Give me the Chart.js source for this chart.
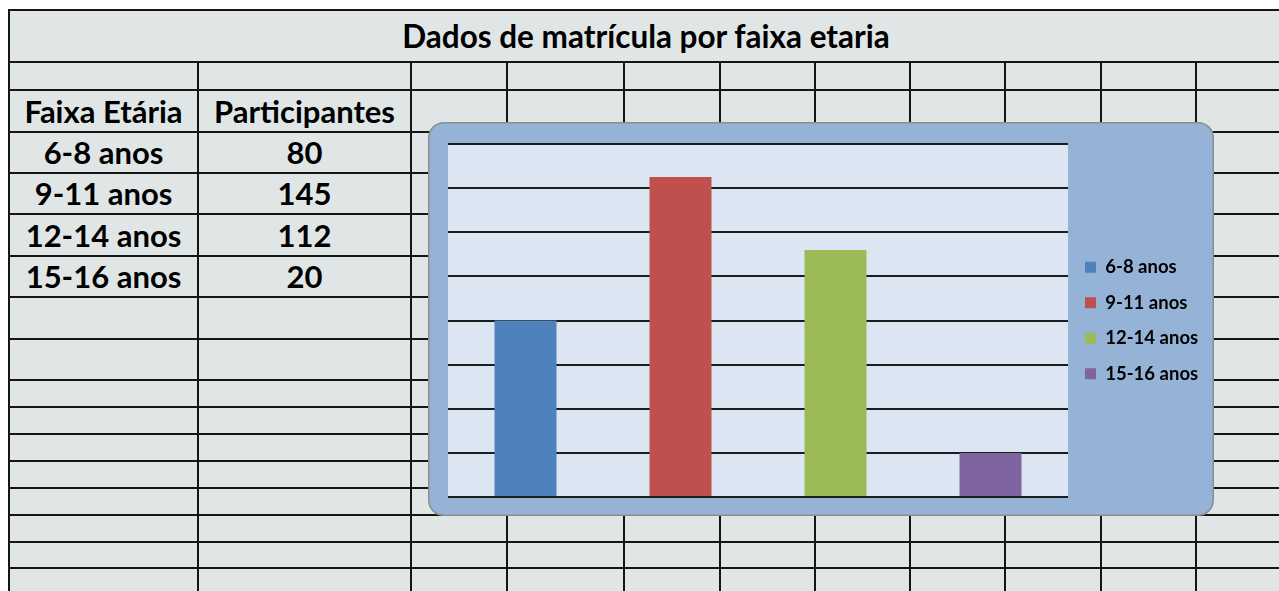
<!DOCTYPE html>
<html>
<head>
<meta charset="utf-8">
<script src="https://cdn.jsdelivr.net/npm/chart.js@4/dist/chart.umd.min.js"></script>
<style>
  html, body { margin: 0; padding: 0; background: #ffffff; }
  body { width: 1279px; height: 591px; overflow: hidden; position: relative; font-family: Lato, "Open Sans", sans-serif; }
  #sheet { position: absolute; left: 9px; top: 10px; width: 1280px; height: 600px; background: #e0e6e6; }
  .hl, .vl { position: absolute; background: #151515; z-index: 1; }
  .cell { position: absolute; display: flex; align-items: center; justify-content: center; font-weight: bold; color: #000; white-space: nowrap; z-index: 2; }
  #chartWrap { position: absolute; left: 428px; top: 122px; width: 787px; height: 395px; z-index: 10; }
</style>
</head>
<body>
<div id="sheet"></div>
<div id="chartWrap"><canvas id="c" width="787" height="395"></canvas></div>
<script>
// ---- data ----
const title = 'Dados de matrícula por faixa etaria';
const headers = ['Faixa Etária', 'Participantes'];
const categories = ['6-8 anos', '9-11 anos', '12-14 anos', '15-16 anos'];
const participants = [80, 145, 112, 20];
const barColors = ['#4f81bd', '#c0504d', '#9bbb59', '#8064a2'];
const yMin = 0, yMax = 160, yStep = 20;

// ---- spreadsheet layout (page geometry) ----
const rowLines = [10, 62, 90, 131.5, 172.5, 214, 255.5, 297, 338.5, 380, 407, 434, 461, 488, 515, 542, 568];
const colLines = [9, 198, 411, 507, 623.5, 719.5, 815, 910, 1005, 1100.5, 1196];

const body = document.body;
function addDiv(cls, l, t, w, h) {
  const d = document.createElement('div');
  d.className = cls;
  d.style.left = l + 'px'; d.style.top = t + 'px';
  d.style.width = w + 'px'; d.style.height = h + 'px';
  body.appendChild(d);
  return d;
}
rowLines.forEach(y => addDiv('hl', 8, y - 1, 1279, 2));
colLines.forEach((x, i) => {
  const top = i === 0 ? 9 : 62;
  addDiv('vl', x - 1, top, 2, 600);
});

function addText(txt, l, r, t, b, size) {
  const d = addDiv('cell', l, t, r - l, b - t);
  d.style.fontSize = size + 'px';
  d.textContent = txt;
  return d;
}
addText(title, 9, 1283, 10, 62, 31.5);
addText(headers[0], 9, 198, 90, 131.5, 31);
addText(headers[1], 198, 411, 90, 131.5, 31);
categories.forEach((c, i) => {
  const t = rowLines[3 + i], b = rowLines[4 + i];
  addText(c, 9, 198, t, b, 31);
  addText(String(participants[i]), 198, 411, t, b, 31);
});

// ---- chart ----
const bgPlugin = {
  id: 'bgPlugin',
  beforeLayout(chart) {
    const lg = chart.legend;
    if (lg && !lg._wrapped) {
      const orig = lg.fit.bind(lg);
      lg.fit = function () { orig(); this.width = 147; };
      lg._wrapped = true;
    }
  },
  beforeDraw(chart) {
    const ctx = chart.ctx;
    const w = chart.width, h = chart.height;
    ctx.save();
    ctx.beginPath();
    ctx.roundRect(0.75, 0.75, w - 2.5, h - 2.5, 15);
    ctx.fillStyle = '#95b3d7';
    ctx.fill();
    ctx.lineWidth = 1.5;
    ctx.strokeStyle = '#8d8d8d';
    ctx.stroke();
    const a = chart.chartArea;
    ctx.fillStyle = '#dce6f2';
    ctx.fillRect(a.left, a.top, a.right - a.left, a.bottom - a.top);
    ctx.restore();
  }
};

new Chart(document.getElementById('c'), {
  type: 'bar',
  data: {
    labels: categories,
    datasets: [{
      label: 'Participantes',
      data: participants,
      backgroundColor: barColors,
      borderWidth: 0,
      barPercentage: 0.4,
      categoryPercentage: 1.0
    }]
  },
  options: {
    responsive: false,
    animation: false,
    devicePixelRatio: 1,
    layout: { padding: { left: 20, top: 22, bottom: 20, right: 0 } },
    scales: {
      x: { display: false },
      y: {
        min: yMin, max: yMax,
        ticks: { display: false, stepSize: yStep },
        grid: { color: '#1c1c1c', lineWidth: 2, drawTicks: false, tickLength: 0 },
        border: { display: false }
      }
    },
    plugins: {
      tooltip: { enabled: false },
      legend: {
        position: 'right',
        align: 'center',
        onClick: null,
        labels: {
          boxWidth: 11,
          boxHeight: 11,
          padding: 17,
          color: '#000',
          font: { family: 'Lato', weight: 'bold', size: 18.5 },
          generateLabels(chart) {
            return categories.map((c, i) => ({
              text: c,
              fillStyle: barColors[i],
              strokeStyle: barColors[i],
              lineWidth: 0,
              hidden: false,
              index: i,
              datasetIndex: 0
            }));
          }
        }
      }
    }
  },
  plugins: [bgPlugin]
});
</script>
</body>
</html>
